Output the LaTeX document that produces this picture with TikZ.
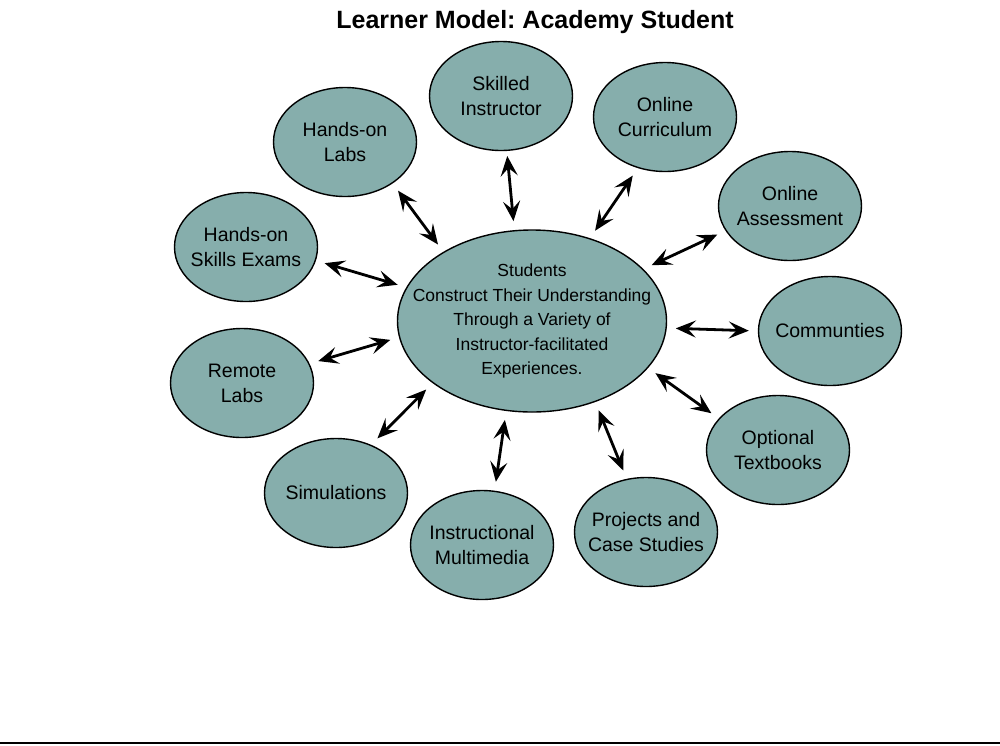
\documentclass[tikz,border=0pt]{standalone}
\usepackage{fontspec}
\setmainfont{Liberation Sans}
\usetikzlibrary{shapes.geometric,arrows.meta}
\definecolor{bubble}{RGB}{134,174,172}
\frenchspacing

\begin{document}
\begin{tikzpicture}[x=1pt,y=-1pt,line join=round,
  >={Stealth[length=20pt,width=17pt,inset=8pt]},
  item/.style={ellipse,draw,fill=bubble,line width=1.4pt,inner sep=-12pt,
    minimum width=143pt,minimum height=109pt,align=center,
    font=\fontsize{19.5}{25}\selectfont},
  hub/.style={item,inner xsep=-30pt,inner ysep=-6pt,minimum width=269pt,
    minimum height=182pt,font=\fontsize{17.5}{24.5}\selectfont},
  twoway/.style={<->,line width=2.8pt,shorten <=9pt,shorten >=9pt}]
\useasboundingbox (0,0) rectangle (1000,745);
\node[font=\fontsize{25}{28}\selectfont\bfseries,anchor=base] (title) at (535,28) {Learner Model: Academy Student};
\node[hub] (students) at (532,321) {Students\\Construct Their Understanding\\Through a Variety of\\Instructor-facilitated\\Experiences.};
\node[item] (labs) at (345,142) {Hands-on\\Labs};
\node[item] (skilled) at (501,96) {Skilled\\Instructor};
\node[item] (curric) at (665,117) {Online\\Curriculum};
\node[item] (assess) at (790,206) {Online\\Assessment};
\node[item] (exams) at (246,247) {Hands-on\\Skills Exams};
\node[item] (commun) at (830,331) {Communties};
\node[item] (remote) at (242,383) {Remote\\Labs};
\node[item] (texts) at (778,450) {Optional\\Textbooks};
\node[item] (sims) at (336,493) {Simulations};
\node[item] (media) at (482,545) {Instructional\\Multimedia};
\node[item] (projects) at (646,532) {Projects and\\Case Studies};
\draw[twoway] (labs.-41.5) -- (students.142.5);
\draw[twoway,shorten <=5pt] (skilled.-84) -- (students.101);
\draw[twoway] (curric.-118) -- (students.55.6);
\draw[twoway] (assess.-159) -- (students.25.6);
\draw[twoway] (exams.-11.4) -- (students.165.5);
\draw[twoway] (commun.180) -- (students.-3.6);
\draw[twoway] (remote.16) -- (students.187.2);
\draw[twoway] (texts.152.8) -- (students.-22.9);
\draw[twoway] (sims.54.5) -- (students.-148.6);
\draw[twoway] (media.77.8) -- (students.-106);
\draw[twoway] (projects.110.1) -- (students.-52.5);
\draw[line width=1.5pt] (0,743) -- (1000,743);
\end{tikzpicture}
\end{document}
